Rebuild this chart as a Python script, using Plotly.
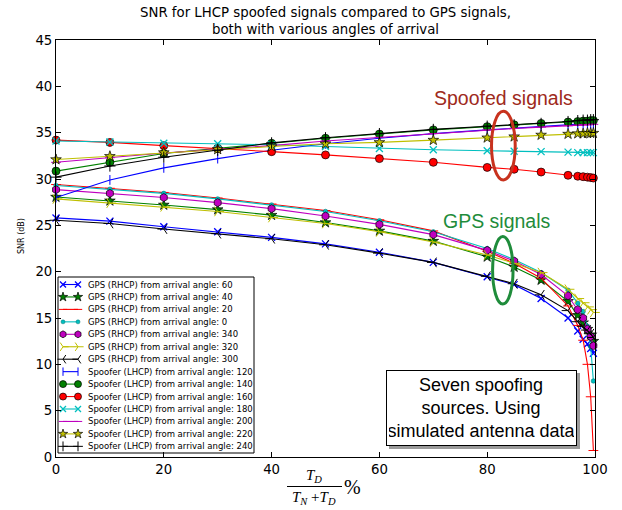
import plotly.graph_objects as go

# ---------------- data ----------------
x_pct = [0, 10, 20, 30, 40, 50, 60, 70, 80, 85, 90, 95, 96.8, 97.8, 98.6, 99.2, 99.7]

gps_60 = [25.8, 25.45, 24.85, 24.3, 23.7, 23.0, 22.1, 21.0, 19.45, 18.6, 17.1, 15.0, 13.6, 12.7, 12.2, 11.7, 11.2]
gps_40 = [28.05, 27.65, 27.2, 26.7, 26.1, 25.3, 24.4, 23.3, 21.6, 20.5, 19.1, 16.8, 15.3, 14.5, 13.8, 13.2, 12.5]
gps_20 = [29.4, 29.0, 28.55, 27.95, 27.3, 26.6, 25.6, 24.4, 22.2, 20.9, 19.3, 16.3, 14.2, 12.6, 10.0, 6.5, 0.7]
gps_0 = [29.3, 28.9, 28.45, 27.85, 27.2, 26.5, 25.5, 24.3, 22.5, 21.3, 19.9, 18.0, 16.6, 15.7, 14.1, 11.9, 8.2]
gps_340 = [28.85, 28.45, 28.0, 27.45, 26.8, 26.0, 25.1, 24.0, 22.3, 21.15, 19.7, 17.4, 15.9, 15.0, 13.8, 13.0, 12.0]
gps_320 = [27.85, 27.4, 27.0, 26.5, 25.85, 25.2, 24.3, 23.2, 21.8, 20.9, 19.9, 18.1, 17.1, 16.65, 16.2, 15.9, 15.6]
gps_300 = [25.55, 25.2, 24.6, 24.1, 23.55, 22.9, 22.0, 21.0, 19.5, 18.7, 17.5, 15.8, 14.6, 14.1, 13.7, 13.3, 12.9]

spf_120 = [28.0, 29.9, 31.2, 32.2, 33.1, 33.8, 34.4, 34.9, 35.3, 35.5, 35.7, 35.9, 35.95, 36.0, 36.0, 36.0, 36.0]
spf_140 = [30.85, 31.8, 32.75, 33.3, 33.85, 34.4, 34.85, 35.3, 35.65, 35.85, 36.0, 36.15, 36.2, 36.25, 36.25, 36.3, 36.3]
spf_160 = [34.2, 33.95, 33.6, 33.3, 32.95, 32.6, 32.2, 31.8, 31.25, 31.05, 30.75, 30.4, 30.3, 30.25, 30.2, 30.15, 30.1]
spf_180 = [34.1, 34.0, 33.85, 33.8, 33.7, 33.5, 33.3, 33.15, 33.05, 33.0, 32.95, 32.9, 32.85, 32.85, 32.85, 32.85, 32.85]
spf_200 = [31.8, 32.3, 32.8, 33.2, 33.6, 34.1, 34.5, 34.9, 35.3, 35.45, 35.6, 35.75, 35.8, 35.85, 35.85, 35.9, 35.9]
spf_220 = [32.1, 32.45, 32.85, 33.2, 33.5, 33.8, 33.95, 34.2, 34.45, 34.57, 34.75, 34.85, 34.9, 34.9, 34.95, 34.95, 34.95]
spf_240 = [30.2, 31.4, 32.35, 33.1, 33.9, 34.45, 34.9, 35.35, 35.7, 35.85, 36.0, 36.2, 36.3, 36.35, 36.35, 36.4, 36.4]

series_names = [
    "GPS (RHCP) from arrival angle: 60",
    "GPS (RHCP) from arrival angle: 40",
    "GPS (RHCP) from arrival angle: 20",
    "GPS (RHCP) from arrival angle: 0",
    "GPS (RHCP) from arrival angle: 340",
    "GPS (RHCP) from arrival angle: 320",
    "GPS (RHCP) from arrival angle: 300",
    "Spoofer (LHCP) from arrival angle: 120",
    "Spoofer (LHCP) from arrival angle: 140",
    "Spoofer (LHCP) from arrival angle: 160",
    "Spoofer (LHCP) from arrival angle: 180",
    "Spoofer (LHCP) from arrival angle: 200",
    "Spoofer (LHCP) from arrival angle: 220",
    "Spoofer (LHCP) from arrival angle: 240",
]
series_values = [gps_60, gps_40, gps_20, gps_0, gps_340, gps_320, gps_300,
                 spf_120, spf_140, spf_160, spf_180, spf_200, spf_220, spf_240]

x_ticks = [0, 20, 40, 60, 80, 100]
y_ticks = [0, 5, 10, 15, 20, 25, 30, 35, 40, 45]

title_text = "SNR for LHCP spoofed signals compared to GPS signals,<br>both with various angles of arrival"
note_text = "Seven spoofing<br>sources. Using<br>simulated antenna data"

# ---------------- styles ----------------
B, G, R, C, M, Y, K = "#0000ff", "#008000", "#ff0000", "#00bfbf", "#bf00bf", "#bfbf00", "#000000"
styles = [
    dict(color=B, symbol="x-thin", size=7, fill=B, edge=B, ew=1.3),
    dict(color=G, symbol="star", size=8, fill=G, edge=K, ew=0.7),
    dict(color=R, symbol="line-ew", size=7, fill=R, edge=R, ew=1.0),
    dict(color=C, symbol="circle", size=4.5, fill=C, edge="#007070", ew=0.5),
    dict(color=M, symbol="hexagon", size=8, fill=M, edge=K, ew=0.7),
    dict(color=Y, symbol="y-right", size=8, fill=Y, edge=Y, ew=1.0),
    dict(color=K, symbol="y-left", size=8, fill=K, edge=K, ew=1.0),
    dict(color=B, symbol="line-ns", size=7, fill=B, edge=B, ew=1.0),
    dict(color=G, symbol="circle", size=8, fill=G, edge=K, ew=0.7),
    dict(color=R, symbol="circle", size=8, fill=R, edge=K, ew=0.7),
    dict(color=C, symbol="x-thin", size=7, fill=C, edge=C, ew=1.3),
    dict(color=M, symbol="line-ew", size=7, fill=M, edge=M, ew=1.0),
    dict(color=Y, symbol="star", size=8, fill=Y, edge=K, ew=0.7),
    dict(color=K, symbol="cross-thin", size=8, fill=K, edge=K, ew=1.0),
]

# plot area in pixels
PX_L, PX_R, PX_T, PX_B = 56, 595, 40, 457
W, H = 622, 510


def px_x(px):
    return (px - PX_L) / (PX_R - PX_L)


def px_y(py):
    return (PX_B - py) / (PX_B - PX_T)


fig = go.Figure()

for name, vals, st in zip(series_names, series_values, styles):
    fig.add_trace(go.Scatter(
        x=x_pct, y=vals, mode="lines+markers", name=name,
        line=dict(color=st["color"], width=1.1),
        marker=dict(symbol=st["symbol"], size=st["size"], color=st["fill"],
                    line=dict(color=st["edge"], width=st["ew"])),
        showlegend=False, cliponaxis=False,
    ))

# ---------------- custom legend (overlay pixel axes) ----------------
LG_X0, LG_X1, LG_Y0, LG_Y1 = 58, 254, 277, 453
fig.add_trace(go.Scatter(
    x=[LG_X0, LG_X1, LG_X1, LG_X0, LG_X0], y=[LG_Y0, LG_Y0, LG_Y1, LG_Y1, LG_Y0],
    mode="lines", fill="toself", fillcolor="white", line=dict(color="black", width=1),
    xaxis="x2", yaxis="y2", hoverinfo="skip", showlegend=False))

# shadow + note box
NB_X0, NB_X1, NB_Y0, NB_Y1 = 386, 577, 370, 446
fig.add_trace(go.Scatter(
    x=[NB_X0 + 3, NB_X1 + 3, NB_X1 + 3, NB_X0 + 3, NB_X0 + 3],
    y=[NB_Y0 + 3, NB_Y0 + 3, NB_Y1 + 3, NB_Y1 + 3, NB_Y0 + 3],
    mode="lines", fill="toself", fillcolor="#9a9a9a", line=dict(color="#9a9a9a", width=0),
    xaxis="x2", yaxis="y2", hoverinfo="skip", showlegend=False))

annotations = []
for i, (name, st) in enumerate(zip(series_names, styles)):
    yy = 284.5 + 12.45 * i
    fig.add_trace(go.Scatter(
        x=[63, 78], y=[yy, yy], mode="lines+markers",
        line=dict(color=st["color"], width=1.1),
        marker=dict(symbol=st["symbol"], size=max(st["size"] - 1, 4), color=st["fill"],
                    line=dict(color=st["edge"], width=st["ew"])),
        xaxis="x2", yaxis="y2", hoverinfo="skip", showlegend=False))
    annotations.append(dict(
        x=86, y=yy, xref="x2", yref="y2", text=name, showarrow=False,
        xanchor="left", yanchor="middle",
        font=dict(family="DejaVu Sans", size=8.5, color="black")))

# note box
annotations.append(dict(
    x=(NB_X0 + NB_X1) / 2, y=(NB_Y0 + NB_Y1) / 2, xref="x2", yref="y2",
    text=note_text, showarrow=False, xanchor="center", yanchor="middle",
    width=NB_X1 - NB_X0 - 6, height=NB_Y1 - NB_Y0 - 6, borderpad=2,
    bgcolor="white", bordercolor="black", borderwidth=1,
    font=dict(family="Liberation Sans", size=18, color="black")))

# callout labels
annotations.append(dict(x=503, y=98, xref="x2", yref="y2", text="Spoofed signals",
                        showarrow=False, xanchor="center", yanchor="middle",
                        font=dict(family="Liberation Sans", size=19.5, color="#9e2a1c")))
annotations.append(dict(x=497, y=221, xref="x2", yref="y2", text="GPS signals",
                        showarrow=False, xanchor="center", yanchor="middle",
                        font=dict(family="Liberation Sans", size=19.5, color="#1f8c3b")))

# title
annotations.append(dict(x=px_x(325.5), y=px_y(21), xref="paper", yref="paper",
                        text=title_text, showarrow=False, xanchor="center", yanchor="middle",
                        font=dict(family="DejaVu Sans", size=13.3, color="black")))
# y label
annotations.append(dict(x=px_x(22), y=px_y(236), xref="paper", yref="paper",
                        text="SNR (dB)", showarrow=False, textangle=-90,
                        xanchor="center", yanchor="middle",
                        font=dict(family="DejaVu Sans", size=8, color="black")))
# x label (fraction)
annotations.append(dict(x=px_x(314), y=px_y(476), xref="paper", yref="paper",
                        text="<i>T<sub>D</sub></i>", showarrow=False,
                        xanchor="center", yanchor="middle",
                        font=dict(family="Liberation Serif", size=15, color="black")))
annotations.append(dict(x=px_x(314), y=px_y(498), xref="paper", yref="paper",
                        text="<i>T<sub>N</sub></i> +<i>T<sub>D</sub></i>", showarrow=False,
                        xanchor="center", yanchor="middle",
                        font=dict(family="Liberation Serif", size=15, color="black")))
annotations.append(dict(x=px_x(352), y=px_y(487), xref="paper", yref="paper",
                        text="%", showarrow=False, xanchor="center", yanchor="middle",
                        font=dict(family="Liberation Serif", size=20, color="black")))

shapes = [
    dict(type="line", xref="paper", yref="paper", x0=px_x(287), x1=px_x(342),
         y0=px_y(486.5), y1=px_y(486.5), line=dict(color="black", width=1)),
    dict(type="circle", xref="x", yref="y", x0=80.8, x1=85.2, y0=29.9, y1=37.3,
         line=dict(color="#c8321e", width=3)),
    dict(type="circle", xref="x", yref="y", x0=81.0, x1=84.8, y0=16.5, y1=23.8,
         line=dict(color="#1f8c3b", width=3)),
]

axis_common = dict(showline=True, linecolor="black", linewidth=1, mirror="ticks",
                   ticks="inside", ticklen=5, tickcolor="black", showgrid=False,
                   zeroline=False,
                   tickfont=dict(family="DejaVu Sans", size=13.3, color="black"))

fig.update_layout(
    width=W, height=H,
    margin=dict(l=PX_L, r=W - PX_R, t=PX_T, b=H - PX_B, pad=0),
    paper_bgcolor="white", plot_bgcolor="white",
    showlegend=False,
    xaxis=dict(range=[0, 100], tickvals=x_ticks, **axis_common),
    yaxis=dict(range=[0, 45], tickvals=y_ticks, **axis_common),
    xaxis2=dict(overlaying="x", anchor="y2", range=[PX_L, PX_R], visible=False, fixedrange=True),
    yaxis2=dict(overlaying="y", anchor="x2", range=[PX_B, PX_T], visible=False, fixedrange=True),
    annotations=annotations,
    shapes=shapes,
)

fig.write_html("out.html")
